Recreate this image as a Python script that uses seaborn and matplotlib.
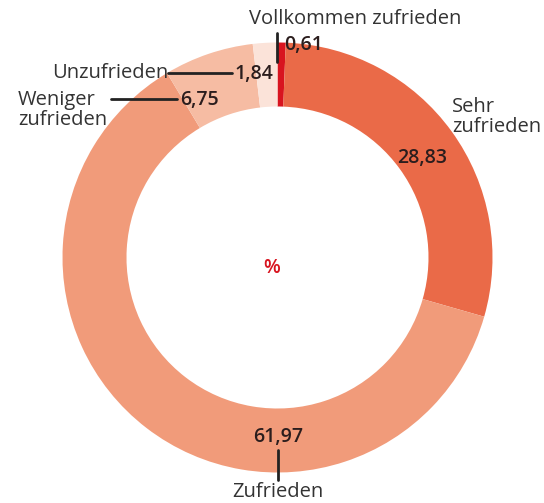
import matplotlib
matplotlib.use("Agg")
import matplotlib.pyplot as plt
import seaborn as sns

# satisfaction shares in percent, clockwise from 12 o'clock
categories = ["Vollkommen zufrieden", "Sehr zufrieden", "Zufrieden",
              "Weniger zufrieden", "Unzufrieden"]
values = [0.61, 28.83, 61.97, 6.75, 1.84]
value_labels = ["0,61", "28,83", "61,97", "6,75", "1,84"]
colors = ["#d8141f", "#ea6a48", "#f19b7a", "#f6bca3", "#fbe3d9"]

sns.set_style("white")
plt.rcParams["font.family"] = ["Open Sans", "DejaVu Sans"]

W, H = 544, 503
fig = plt.figure(figsize=(W / 100, H / 100), dpi=100)
ax = fig.add_axes([0, 0, 1, 1])


def py(y):
    # pixel row (from top) -> data y
    return H - y


R = 215
ax.pie(values, colors=colors, startangle=90, counterclock=False,
       radius=R, center=(277.5, py(257.5)),
       wedgeprops=dict(width=64, linewidth=0), frame=True)
ax.set_xlim(0, W)
ax.set_ylim(0, H)
ax.set_aspect("equal")
ax.axis("off")

txt = "#333333"
num = "#2b1d1d"
lab_fs = 14.5
num_fs = 14
nw = "semibold"

# Vollkommen zufrieden
ax.text(355, py(19), "Vollkommen zufrieden", ha="center", va="center",
        fontsize=lab_fs, color=txt)
ax.plot([276.5, 276.5], [py(33), py(62)], color="#222222", lw=2)
ax.text(284, py(45), value_labels[0], ha="left", va="center",
        fontsize=num_fs, color=num, fontweight=nw)

# Sehr zufrieden
ax.text(452, py(117), "Sehr\nzufrieden", ha="left", va="center",
        fontsize=lab_fs, color=txt, linespacing=1.05)
ax.text(422, py(158), value_labels[1], ha="center", va="center",
        fontsize=num_fs, color=num, fontweight=nw)

# Zufrieden
ax.text(278, py(437), value_labels[2], ha="center", va="center",
        fontsize=num_fs, color=num, fontweight=nw)
ax.plot([278, 278], [py(450), py(480)], color="#222222", lw=2)
ax.text(278, py(492), "Zufrieden", ha="center", va="center",
        fontsize=lab_fs, color=txt)

# Weniger zufrieden
ax.text(18, py(110), "Weniger\nzufrieden", ha="left", va="center",
        fontsize=lab_fs, color=txt, linespacing=1.0)
ax.plot([111, 177], [py(99), py(99)], color="#222222", lw=2)
ax.text(180, py(100), value_labels[3], ha="left", va="center",
        fontsize=num_fs, color=num, fontweight=nw)

# Unzufrieden
ax.text(168, py(73), "Unzufrieden", ha="right", va="center",
        fontsize=lab_fs, color=txt)
ax.plot([168, 232], [py(73), py(73)], color="#222222", lw=2)
ax.text(234, py(74), value_labels[4], ha="left", va="center",
        fontsize=num_fs, color=num, fontweight=nw)

# centre unit
ax.text(272, py(268), "%", ha="center", va="center",
        fontsize=14, color="#d8141f", fontweight="semibold")

fig.savefig("out.png", dpi=100)
